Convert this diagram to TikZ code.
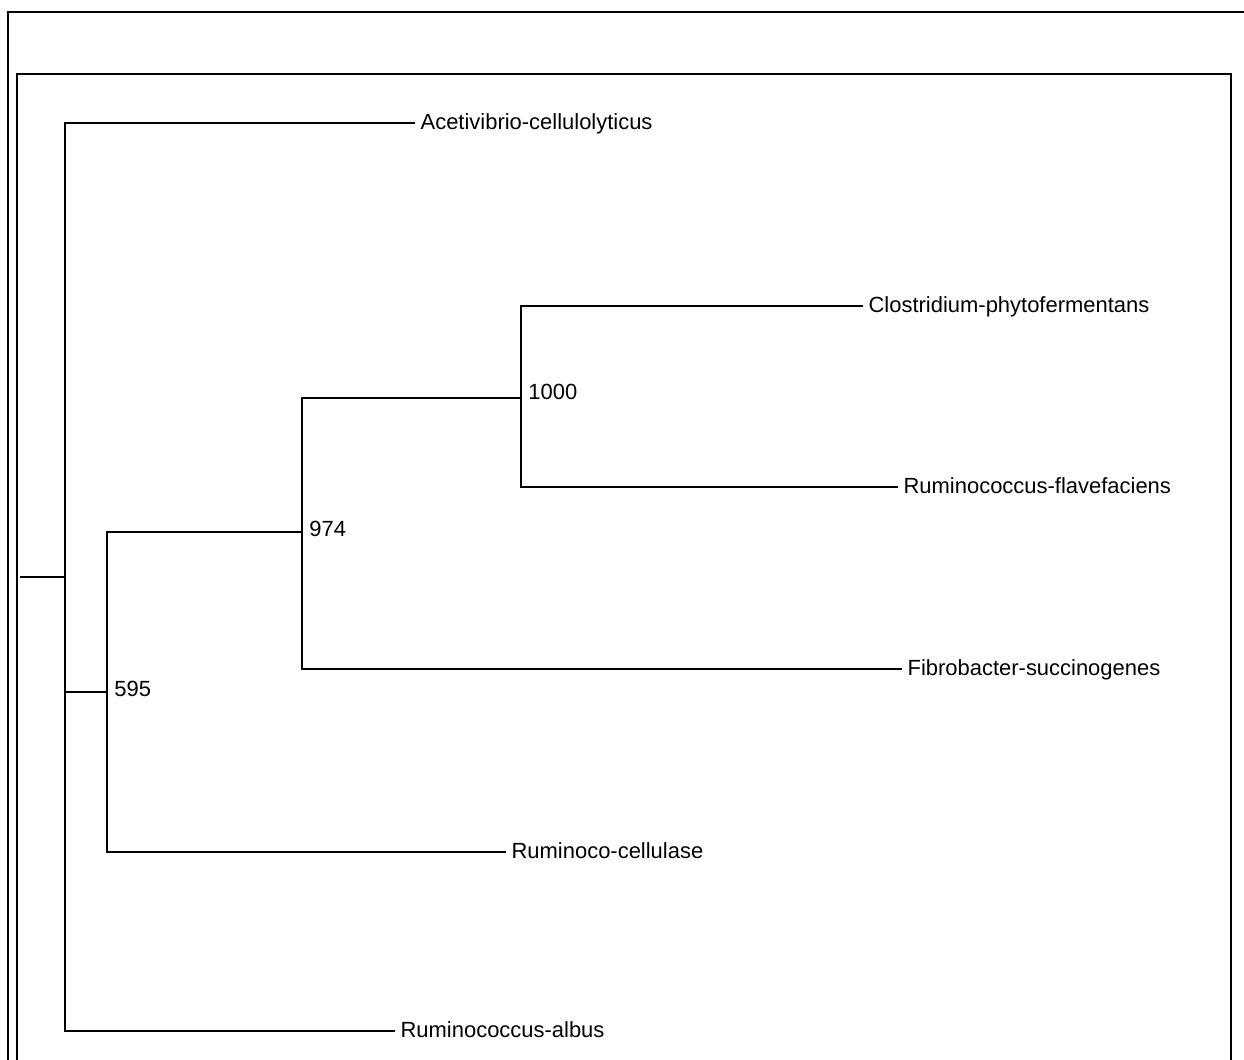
\documentclass[tikz,border=0pt]{standalone}
\usepackage{fontspec}
\setmainfont{Liberation Sans}
\usepackage{xcolor}
\usepackage{tikz}

\begin{document}
\begin{tikzpicture}[x=0.02cm, y=-0.02cm,
    branch/.style={line width=0.75pt, black},
    leaf/.style={anchor=west, inner xsep=3pt, inner ysep=0pt,
        text height=0.716em, text depth=0pt,
        font=\fontsize{12.5}{15}\selectfont},
    support/.style={leaf, inner xsep=4pt}]
    \useasboundingbox (0,0) rectangle (1244,1059);

    % frames
    \draw[line width=1.2pt] (8,1070) -- (8,12) -- (1250,12);
    \draw[line width=0.6pt] (17,1070) -- (17,74) -- (1231,74) -- (1231,1070);

    % inner nodes
    \coordinate (stub) at (20,577);
    \coordinate (root) at (65,577);
    \coordinate (n595) at (107,692);
    \coordinate (n974) at (302,532);
    \coordinate (n1000) at (521,398);

    % leaves
    \node[leaf] (acet) at (415,123) {Acetivibrio-cellulolyticus};
    \node[leaf] (clos) at (863,306) {Clostridium-phytofermentans};
    \node[leaf] (flav) at (898,487) {Ruminococcus-flavefaciens};
    \node[leaf] (fibro) at (902,669) {Fibrobacter-succinogenes};
    \node[leaf] (rcell) at (506,852) {Ruminoco-cellulase};
    \node[leaf] (albus) at (395,1031) {Ruminococcus-albus};

    % support values
    \node[support] (s1000) at (521,393) {1000};
    \node[support] (s974) at (302,530) {974};
    \node[support] (s595) at (107,690) {595};

    % branches
    \draw[branch] (stub) -- (root);
    \draw[branch] (root) |- (acet);
    \draw[branch] (root) |- (albus);
    \draw[branch] (root) |- (n595);
    \draw[branch] (n595) |- (n974);
    \draw[branch] (n595) |- (rcell);
    \draw[branch] (n974) |- (n1000);
    \draw[branch] (n974) |- (fibro);
    \draw[branch] (n1000) |- (clos);
    \draw[branch] (n1000) |- (flav);
\end{tikzpicture}
\end{document}
